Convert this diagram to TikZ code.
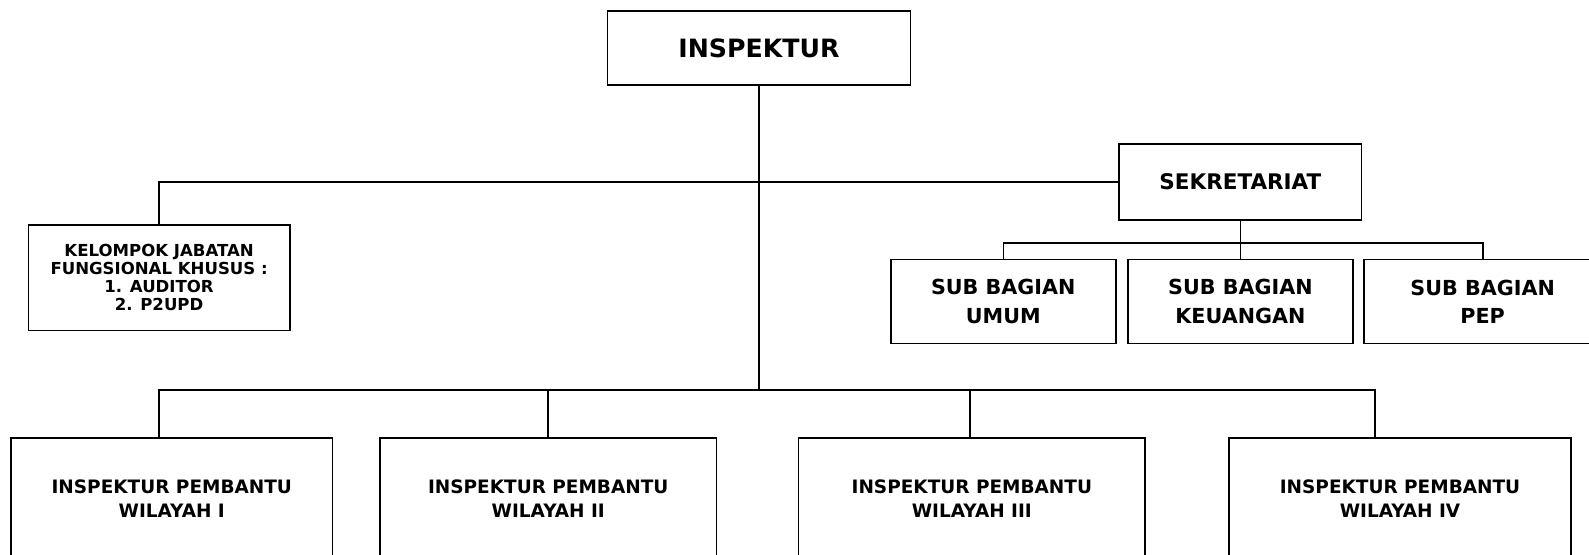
\documentclass[tikz,border=0pt]{standalone}
\usepackage{fontspec}
\setmainfont{DejaVu Sans}
\begin{document}
\begin{tikzpicture}[x=1bp,y=-1bp,scale=1.0134,every node/.style={transform shape},
  box/.style={draw,line width=1.7bp,rectangle,align=center,inner sep=0pt,font=\bfseries},
  conn/.style={line width=1.7bp}]
\useasboundingbox (0,0) rectangle (1568,546.7);
\clip (0,0) rectangle (1568,546.7);
% top
\node[box,minimum width=299bp,minimum height=73bp,font=\bfseries\fontsize{25}{28}\selectfont] (insp) at (749,47.5) {INSPEKTUR};
\node[box,minimum width=239bp,minimum height=75bp,font=\bfseries\fontsize{21.3}{24}\selectfont] (sek) at (1224,179.5) {SEKRETARIAT};
\node[box,minimum width=258bp,minimum height=104bp,font=\bfseries\fontsize{16.4}{18}\selectfont] (kel) at (157,274) {KELOMPOK JABATAN\\FUNGSIONAL KHUSUS :\\1. AUDITOR\\2. P2UPD};
% sub bagian
\tikzset{sub/.style={box,minimum height=83bp,font=\bfseries\fontsize{20.5}{28}\selectfont}}
\node[sub,minimum width=222bp] (umum) at (990,297.5) {SUB BAGIAN\\UMUM};
\node[sub,minimum width=222bp] (keu) at (1224,297.5) {SUB BAGIAN\\KEUANGAN};
\node[sub,minimum width=234bp] (pep) at (1463,297.5) {SUB BAGIAN\\PEP};
% inspektur pembantu
\tikzset{ipw/.style={box,minimum height=120bp,font=\bfseries\fontsize{18.3}{23}\selectfont}}
\node[ipw,minimum width=317bp] (w1) at (169.5,492) {INSPEKTUR PEMBANTU\\WILAYAH I};
\node[ipw,minimum width=332bp] (w2) at (541,492) {INSPEKTUR PEMBANTU\\WILAYAH II};
\node[ipw,minimum width=342bp] (w3) at (959,492) {INSPEKTUR PEMBANTU\\WILAYAH III};
\node[ipw,minimum width=337bp] (w4) at (1381.5,492) {INSPEKTUR PEMBANTU\\WILAYAH IV};
% coordinates
\coordinate (bj) at (749,385);
\coordinate (sj) at (1224,240);
% connectors
\draw[conn] (insp.south) -- (bj);
\draw[conn] (kel.north) |- (sek.west);
\draw[conn] (sek.south) -- (sj);
\draw[conn] (umum.north) |- (sj) -| (pep.north);
\draw[conn] (keu.north) -- (sj);
\draw[conn] (w1.north -| 157,0) |- (bj) -| (w4.north -| 1357,0);
\draw[conn] (w2.north) -- (w2.north |- bj);
\draw[conn] (w3.north -| 957,0) -- (957,385);
\end{tikzpicture}
\end{document}
